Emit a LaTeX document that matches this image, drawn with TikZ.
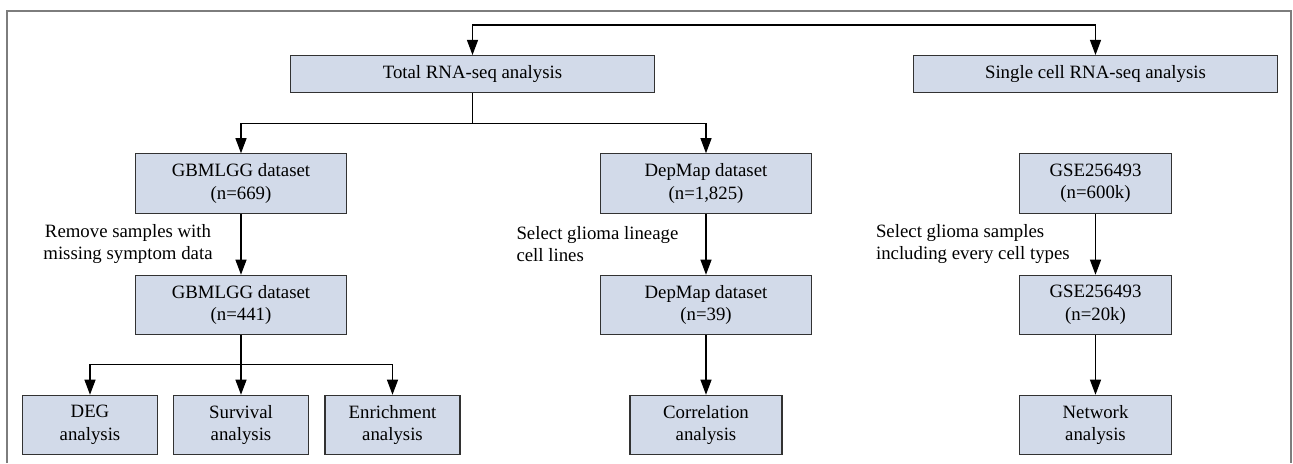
\documentclass[tikz,border=0pt]{standalone}
\usepackage{fontspec}
\setmainfont{Liberation Serif}
\usetikzlibrary{arrows.meta}
\definecolor{boxfill}{RGB}{210,218,233}
\definecolor{boxline}{RGB}{50,50,50}
\definecolor{framegray}{RGB}{125,125,125}

\begin{document}
\begin{tikzpicture}[line width=0.6pt, >={Triangle[length=0.3cm, width=0.22cm]},
    box/.style={draw=boxline, fill=boxfill, align=center, inner sep=0,
        font=\fontsize{10.7}{12.8}\selectfont},
    widebox/.style={box, minimum width=7.28cm, minimum height=0.74cm},
    databox/.style={box, minimum width=4.22cm, minimum height=1.19cm},
    gsebox/.style={box, minimum width=3.04cm, minimum height=1.19cm},
    leafbox/.style={box, minimum width=2.7cm, minimum height=1.19cm},
    note/.style={inner sep=0, font=\fontsize{10.7}{12.8}\selectfont}]
\useasboundingbox (0, 0) rectangle (25.86, -9.26);
\draw[framegray] (0.14, -9.26) |- (25.82, -0.22) -- (25.82, -9.26);

\node[widebox] (total) at (9.45, -1.48) {Total RNA-seq analysis};
\node[widebox] (single) at (21.91, -1.48) {Single cell RNA-seq analysis};

\node[databox] (gbm1) at (4.82, -3.67) {GBMLGG dataset\\(n=669)};
\node[databox] (dep1) at (14.12, -3.67) {DepMap dataset\\(n=1,825)};
\node[gsebox] (gse1) at (21.91, -3.67) {GSE256493\\(n=600k)};

\node[databox] (gbm2) at (4.82, -6.1) {GBMLGG dataset\\(n=441)};
\node[databox] (dep2) at (14.12, -6.1) {DepMap dataset\\(n=39)};
\node[gsebox] (gse2) at (21.91, -6.1) {GSE256493\\(n=20k)};

\node[leafbox] (deg) at (1.8, -8.5) {DEG\\analysis};
\node[leafbox] (surv) at (4.82, -8.5) {Survival\\analysis};
\node[leafbox] (enr) at (7.85, -8.5) {Enrichment\\analysis};
\node[gsebox] (corr) at (14.12, -8.5) {Correlation\\analysis};
\node[gsebox] (net) at (21.91, -8.5) {Network\\analysis};

\node[note, align=center] (remove) at (2.56, -4.88) {Remove samples with\\missing symptom data};
\node[note, anchor=west, align=left] (lineage) at (10.32, -4.88) {Select glioma lineage\\cell lines};
\node[note, anchor=west, align=left] (samples) at (17.51, -4.88) {Select glioma samples\\including every cell types};

\draw[<->] (total.north) -- ++(0, 0.6) -| (single.north);
\draw (total.south) -- ++(0, -0.61) coordinate (split1);
\draw[->] (split1) -| (gbm1.north);
\draw[->] (split1) -| (dep1.north);

\draw[->] (gbm1) -- (gbm2);
\draw[->] (dep1) -- (dep2);
\draw[->] (gse1) -- (gse2);

\draw (gbm2.south) -- ++(0, -0.58) coordinate (split2);
\draw[->] (split2) -| (deg.north);
\draw[->] (gbm2) -- (surv);
\draw[->] (split2) -| (enr.north);
\draw[->] (dep2) -- (corr);
\draw[->] (gse2) -- (net);
\end{tikzpicture}
\end{document}
